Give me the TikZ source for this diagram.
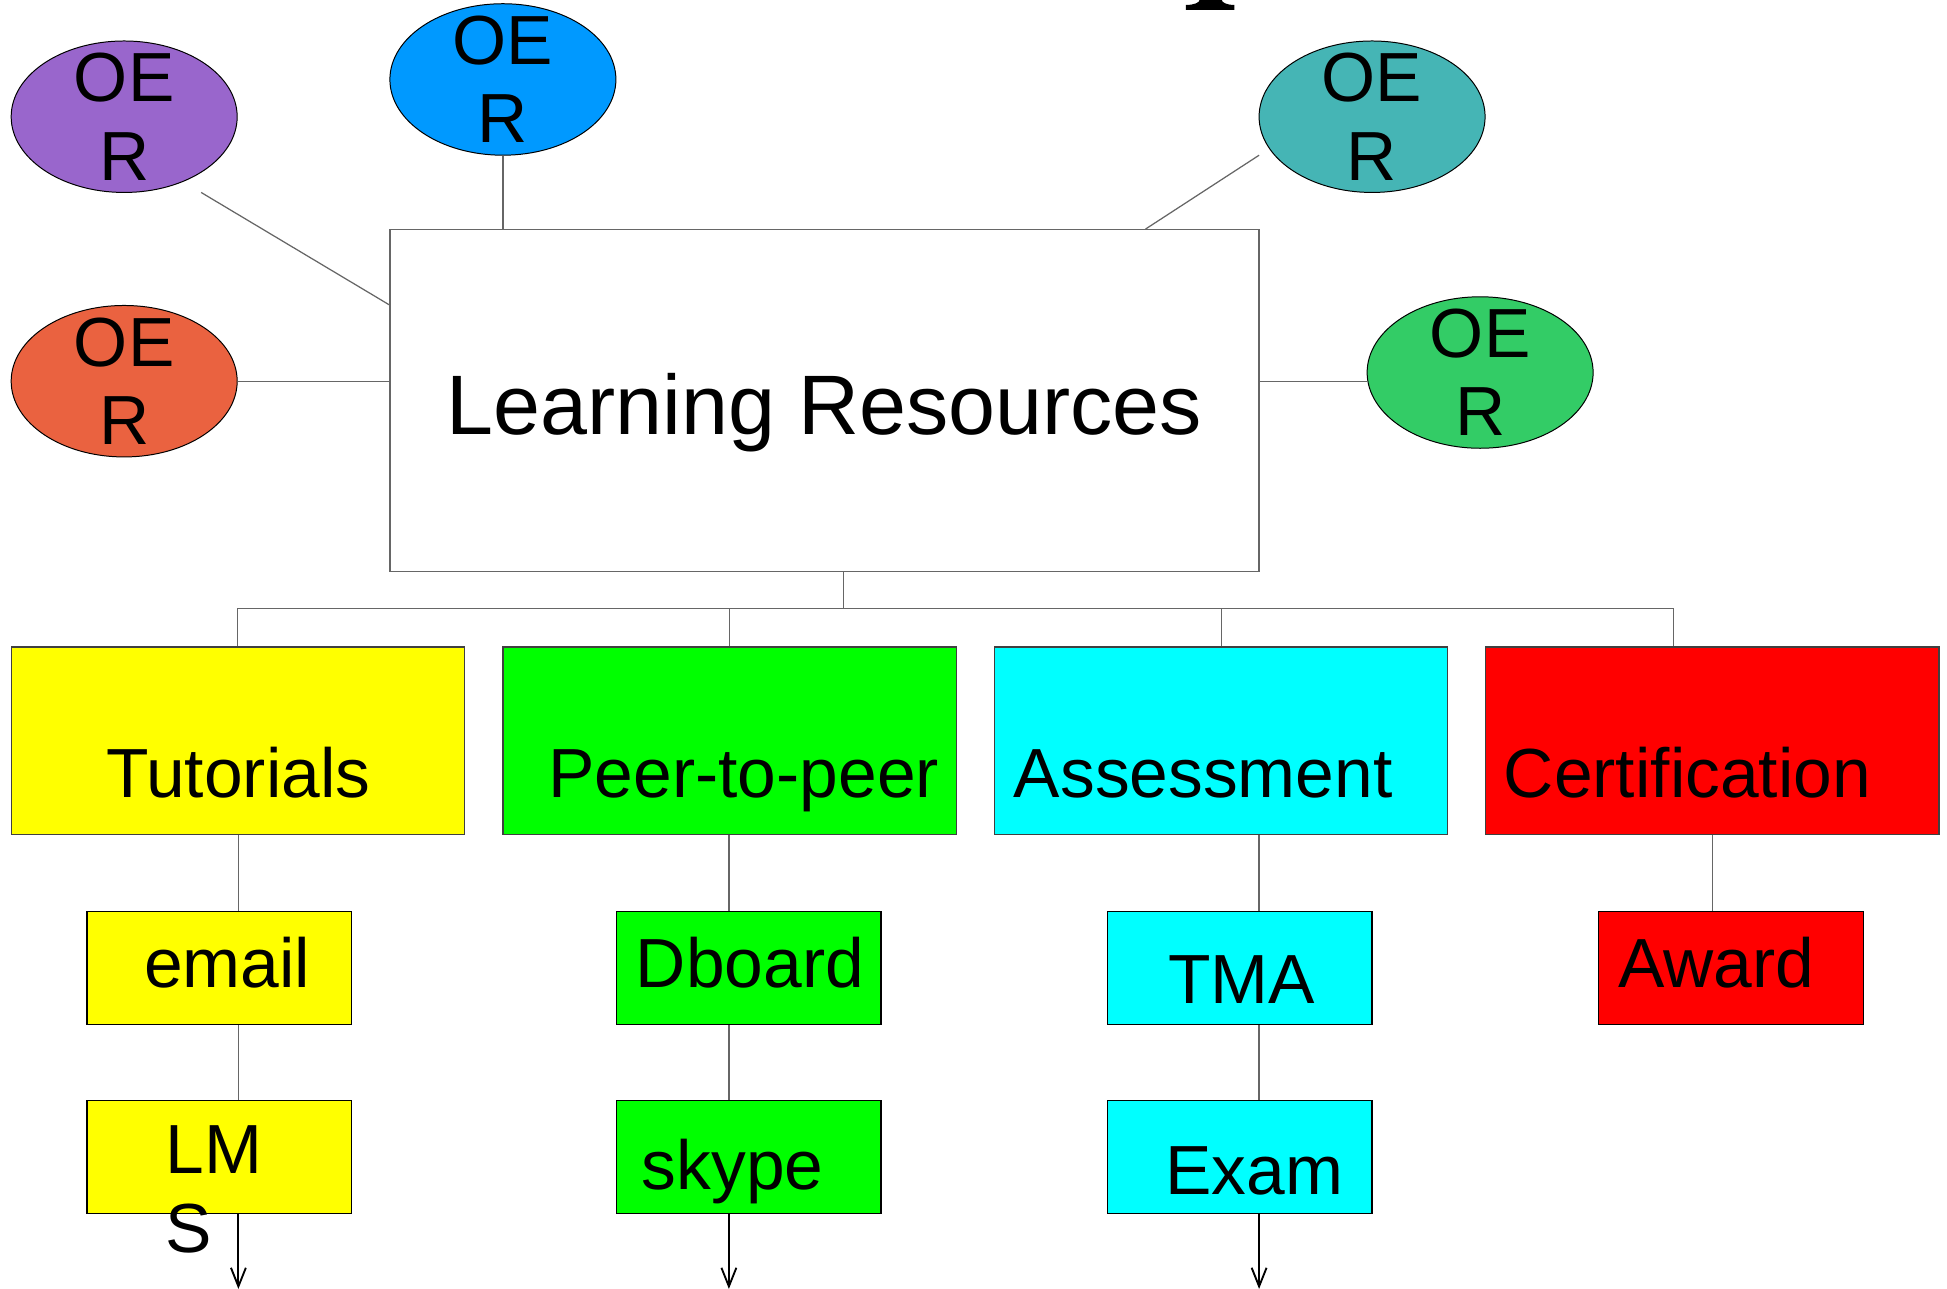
\documentclass[tikz,border=0pt]{standalone}
\usepackage{fontspec}
\setmainfont{Liberation Sans}
\usetikzlibrary{shapes.geometric,arrows.meta}

\definecolor{oerpurple}{HTML}{9966CC}
\definecolor{oerblue}{HTML}{0099FF}
\definecolor{oerteal}{HTML}{45B5B5}
\definecolor{oerorange}{HTML}{EA6240}
\definecolor{oergreen}{HTML}{33CC66}
\definecolor{boxyellow}{RGB}{255,255,0}
\definecolor{boxgreen}{RGB}{0,255,0}
\definecolor{boxcyan}{RGB}{0,255,255}
\definecolor{boxred}{RGB}{255,0,0}

\tikzset{
  oer/.style={ellipse, draw=black, line width=0.4pt, minimum width=91pt, minimum height=61pt,
    inner sep=0pt, label={[oertxt]center:OE\\R}},
  oertxt/.style={inner sep=0pt, align=center, font=\fontsize{28}{31.5}\selectfont},
  resbox/.style={draw=black!60, line width=0.5pt, fill=white, minimum width=350pt, minimum height=137.5pt},
  catbox/.style={draw=black!75, line width=0.5pt, minimum width=182.5pt, minimum height=75.5pt},
  subbox/.style={draw=black, line width=0.5pt, minimum width=106.5pt, minimum height=45.5pt},
  lbl/.style={anchor=base, inner sep=0pt, font=\fontsize{28}{32}\selectfont},
  link/.style={draw=black!60, line width=0.5pt},
  feed/.style={draw=black, line width=0.75pt, -{Straight Barb[length=7.5pt,width=6pt]}},
}

\begin{document}
\begin{tikzpicture}[x=0.5pt, y=-0.5pt]
  \useasboundingbox (0,0) rectangle (1568,1038);

  % cut-off glyph at the top edge
  \fill (955,8) -- (955,4) .. controls (962,4) and (966,2) .. (966,0) -- (984,0)
    .. controls (984,2) and (988,4) .. (994,4) -- (994,8) -- cycle;

  % centre box and the OER ellipses
  \node[resbox] (lr) at (664,322.5) {};
  \node[anchor=base, inner sep=0pt, font=\fontsize{34}{40}\selectfont] (lrtxt) at (664,350) {Learning Resources};

  \node[oer, fill=oerpurple] (oer1) at (100,94) {};
  \node[oer, fill=oerblue] (oer2) at (405,64) {};
  \node[oer, fill=oerorange] (oer3) at (100,307) {};
  \node[oer, fill=oerteal] (oer4) at (1105,94) {};
  \node[oer, fill=oergreen] (oer5) at (1192,300) {};

  \coordinate (oer1tail) at (162,155);
  \coordinate (oer4tail) at (1014,125);
  \draw[link] (oer1tail) -- ([yshift=-30.5pt]lr.north west);
  \draw[link] (oer2.south) -- (oer2.south |- lr.north);
  \draw[link] (oer4tail) -- ([xshift=-46pt]lr.north east);
  \draw[link] (oer3.east) -- (oer3.east -| lr.west);
  \draw[link] (lr.east |- oer3) -- (oer5.west |- oer3);

  % first row
  \node[catbox, fill=boxyellow] (tut) at (191.5,596.5) {};
  \node[catbox, fill=boxgreen] (peer) at (587.5,596.5) {};
  \node[catbox, fill=boxcyan] (assess) at (983.5,596.5) {};
  \node[catbox, fill=boxred] (cert) at (1379,596.5) {};
  \node[lbl] (tuttxt) at (192,642) {Tutorials};
  \node[lbl] (peertxt) at (599,642) {Peer-to-peer};
  \node[lbl] (assesstxt) at (969,642) {Assessment};
  \node[lbl] (certtxt) at (1359,642) {Certification};

  \coordinate (bus) at (679,490);
  \coordinate (certdrop) at (1348,490);
  \draw[link] (lr.south -| bus) -- (bus);
  \draw[link] (tut.north) |- (bus);
  \draw[link] (peer.north) |- (bus);
  \draw[link] (assess.north) |- (bus);
  \draw[link] (bus) -- (certdrop) -- (certdrop |- cert.north);

  % second and third rows
  \node[subbox, fill=boxyellow] (email) at (176.5,779.5) {};
  \node[subbox, fill=boxgreen] (dboard) at (603,779.5) {};
  \node[subbox, fill=boxcyan] (tma) at (998.5,779.5) {};
  \node[subbox, fill=boxred] (award) at (1394,779.5) {};
  \node[subbox, fill=boxyellow] (lms) at (176.5,931.5) {};
  \node[subbox, fill=boxgreen] (skype) at (603,931.5) {};
  \node[subbox, fill=boxcyan] (exam) at (998.5,931.5) {};

  \node[lbl] (emailtxt) at (183,795) {email};
  \node[lbl] (dboardtxt) at (604,795) {Dboard};
  \node[lbl] (tmatxt) at (1000,808) {TMA};
  \node[lbl] (awardtxt) at (1382,795) {Award};
  \node[lbl, anchor=north west, align=left] (lmstxt) at (133,906) {LM\\S};
  \node[lbl] (skypetxt) at (590,958) {skype};
  \node[lbl] (examtxt) at (1010,962) {Exam};

  \coordinate (col1) at (192,1038);
  \coordinate (col2) at (587,1038);
  \coordinate (col3) at (1014,1038);
  \draw[link] (tut.south -| col1) -- (email.north -| col1);
  \draw[link] (email.south -| col1) -- (lms.north -| col1);
  \draw[feed] (lms.south -| col1) -- (col1);
  \draw[link] (peer.south -| col2) -- (dboard.north -| col2);
  \draw[link] (dboard.south -| col2) -- (skype.north -| col2);
  \draw[feed] (skype.south -| col2) -- (col2);
  \draw[link] (assess.south -| col3) -- (tma.north -| col3);
  \draw[link] (tma.south -| col3) -- (exam.north -| col3);
  \draw[feed] (exam.south -| col3) -- (col3);
  \draw[link] (cert.south) -- (cert.south |- award.north);
\end{tikzpicture}
\end{document}
